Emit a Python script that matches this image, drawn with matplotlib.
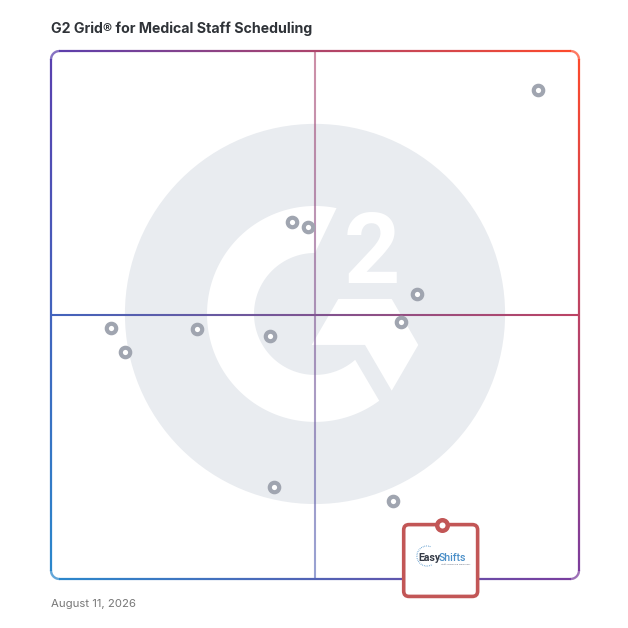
import numpy as np
import matplotlib
matplotlib.use("Agg")
import matplotlib.pyplot as plt
from matplotlib.patches import Circle, Polygon, FancyBboxPatch, Arc
from matplotlib.collections import LineCollection
from matplotlib.colors import to_rgb

# ---------------- data ----------------
title = "G2 Grid\u00ae for Medical Staff Scheduling"
date_label = "August 11, 2026"
satisfaction = [92.3, 45.7, 48.6, 69.3, 66.3, 11.3, 27.7, 41.5, 14.1, 42.2, 64.8]
market_presence = [92.6, 67.6, 66.7, 54.0, 48.6, 47.6, 47.3, 46.0, 42.9, 17.4, 14.8]
highlight_name = ("Easy", "Shifts")
highlight_x = 74.1
highlight_y = 10.3

# ---------------- figure ----------------
W = H = 628
fig = plt.figure(figsize=(W / 100, H / 100), dpi=100)
L, R, T, B = 51, 579, 51, 579
ax = fig.add_axes([L / W, 1 - B / H, (R - L) / W, (B - T) / H])
ax.set_xlim(0, 100)
ax.set_ylim(0, 100)
ax.set_aspect("equal")
ax.axis("off")

TL = np.array(to_rgb("#5a3fae"))
TR = np.array(to_rgb("#ff4a2a"))
BL = np.array(to_rgb("#2a88cc"))
BR = np.array(to_rgb("#7a3d9e"))


def bilerp(u, v):
    top = TL * (1 - u) + TR * u
    bot = BL * (1 - u) + BR * u
    return np.clip(bot * (1 - v) + top * v, 0, 1)


def grad_line(pts, lw, alpha=1.0, z=3):
    pts = np.asarray(pts)
    segs = np.stack([pts[:-1], pts[1:]], axis=1)
    mids = (pts[:-1] + pts[1:]) / 2
    cols = [tuple(bilerp(m[0] / 100, m[1] / 100)) + (alpha,) for m in mids]
    lc = LineCollection(segs, colors=cols, linewidths=lw, capstyle="butt",
                        zorder=z, clip_on=False)
    ax.add_collection(lc)


# ---------------- G2 logo watermark ----------------
cx, cy = 50.0, 50.2
ax.add_patch(Circle((cx, cy), 36.0, facecolor="#e9ecf0", edgecolor="none", zorder=0))
ro, ri = 20.45, 11.55
to = np.radians(np.linspace(78.5, 306.5, 200))
ti = np.radians(np.linspace(311.2, 90.0, 200))
c_pts = np.vstack([
    np.column_stack([cx + ro * np.cos(to), cy + ro * np.sin(to)]),
    np.column_stack([cx + ri * np.cos(ti), cy + ri * np.sin(ti)]),
])
ax.add_patch(Polygon(c_pts, closed=True, facecolor="white", edgecolor="none", zorder=1))
chev = np.array([[4.41, 2.84], [14.53, 2.84], [19.56, -5.87],
                 [14.53, -14.53], [9.47, -5.87], [-0.63, -5.87]]) + [cx, cy]
ax.add_patch(Polygon(chev, closed=True, facecolor="white", edgecolor="none", zorder=1))
ax.text(cx + 10.75, cy + 5.8, "2", ha="center", va="baseline", color="white",
        fontsize=71, fontweight="bold", family="Roboto", zorder=1)

# ---------------- mid lines ----------------
xs = np.linspace(0, 100, 300)
grad_line(np.column_stack([xs, np.full_like(xs, 50)]), lw=1.5, z=2)
grad_line(np.column_stack([np.full_like(xs, 50), xs]), lw=1.5, alpha=0.6, z=2)

# ---------------- frame ----------------
r = 1.6
n = 200
pts = []
pts += list(np.column_stack([np.linspace(r, 100 - r, n), np.zeros(n)]))
a = np.radians(np.linspace(-90, 0, 30))
pts += list(np.column_stack([100 - r + r * np.cos(a), r + r * np.sin(a)]))
pts += list(np.column_stack([np.full(n, 100), np.linspace(r, 100 - r, n)]))
a = np.radians(np.linspace(0, 90, 30))
pts += list(np.column_stack([100 - r + r * np.cos(a), 100 - r + r * np.sin(a)]))
pts += list(np.column_stack([np.linspace(100 - r, r, n), np.full(n, 100)]))
a = np.radians(np.linspace(90, 180, 30))
pts += list(np.column_stack([r + r * np.cos(a), 100 - r + r * np.sin(a)]))
pts += list(np.column_stack([np.zeros(n), np.linspace(100 - r, r, n)]))
a = np.radians(np.linspace(180, 270, 30))
pts += list(np.column_stack([r + r * np.cos(a), r + r * np.sin(a)]))
pts.append(pts[0])
grad_line(pts, lw=1.6, z=3)

# ---------------- products ----------------
ax.plot(satisfaction, market_presence, linestyle="none", marker="o",
        markersize=6.8, markerfacecolor="white", markeredgecolor="#a0a5b0",
        markeredgewidth=3.0, zorder=5, clip_on=False)

# highlighted product card
cw, ch = 14.0, 13.6
card = FancyBboxPatch((highlight_x - cw / 2 - 0.3, highlight_y - ch), cw, ch,
                      boxstyle="round,pad=0,rounding_size=1.0",
                      facecolor="white", edgecolor="#c25656", linewidth=2.6,
                      zorder=6, clip_on=False)
ax.add_patch(card)
ax.plot([highlight_x], [highlight_y], linestyle="none", marker="o",
        markersize=7.6, markerfacecolor="white", markeredgecolor="#c25656",
        markeredgewidth=3.2, zorder=7, clip_on=False)
sx = highlight_x - 0.3
ax.text(sx, highlight_y - 6.8, highlight_name[0], ha="right", va="baseline",
        fontsize=7.6, fontweight="bold", color="#353b47", family="Roboto",
        zorder=8, clip_on=False)
ax.text(sx - 0.35, highlight_y - 6.8, highlight_name[1], ha="left", va="baseline",
        fontsize=7.6, fontweight="medium", color="#4a8fc8", family="Roboto",
        zorder=8, clip_on=False)
ax.text(sx + 0.1, highlight_y - 7.6, "Staff Scheduling Made Easy", ha="left",
        va="baseline", fontsize=1.7, color="#7a8090", family="Roboto",
        zorder=8, clip_on=False)
ax.add_patch(Arc((highlight_x - 2.9, highlight_y - 5.95), 3.8, 3.8,
                 theta1=70, theta2=300, linestyle=(0, (0.6, 1.0)),
                 color="#4a8fc8", linewidth=0.8, zorder=8, clip_on=False))

# ---------------- texts ----------------
fig.text(L / W, 1 - 29 / H, title, ha="left", va="center", fontsize=10.2,
         fontweight="bold", color="#2f3338", family="Inter")
fig.text(L / W, 1 - 604 / H, date_label, ha="left", va="center", fontsize=8.2,
         color="#777777", family="Inter")

fig.savefig("out.png", dpi=100, facecolor="white")
